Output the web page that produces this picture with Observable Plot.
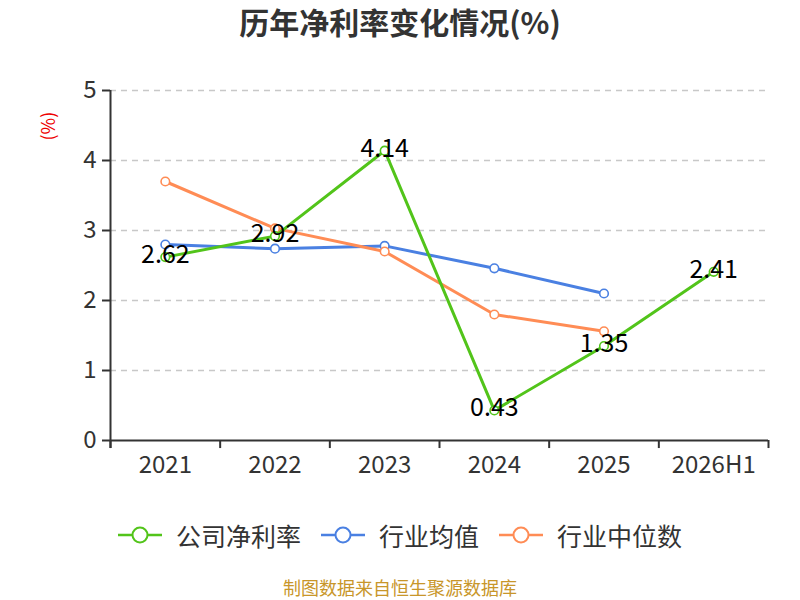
<!DOCTYPE html>
<html>
<head>
<meta charset="utf-8">
<script src="https://cdn.jsdelivr.net/npm/d3@7"></script>
<script src="https://cdn.jsdelivr.net/npm/@observablehq/plot@0.6"></script>
<style>
  body { margin: 0; background: #fff; font-family: "Noto Sans CJK SC", "Noto Sans", sans-serif; }
  #wrap { position: relative; width: 800px; height: 600px; overflow: hidden; }
  #title { position: absolute; left: 0; top: 0px; width: 800px; text-align: center; font-size: 30px; font-weight: bold; color: #333; line-height: 42px; }
  #chart { position: absolute; left: 0; top: 50px; }
  #legend { position: absolute; left: 0; top: 516px; width: 800px; display: flex; justify-content: center; align-items: center; font-size: 25px; color: #333; line-height: 38px; }
  .item { display: flex; align-items: center; margin: 0 10px; }
  .item svg { margin-right: 14px; }
  #caption { position: absolute; left: 0; top: 577px; width: 800px; text-align: center; font-size: 18px; color: #c8962a; line-height: 20px; }
</style>
</head>
<body>
<div id="wrap">
  <div id="title">历年净利率变化情况(%)</div>
  <div id="chart"></div>
  <div id="legend"></div>
  <div id="caption">制图数据来自恒生聚源数据库</div>
</div>
<script>
const years = ["2021", "2022", "2023", "2024", "2025", "2026H1"];
const companyRate = [2.62, 2.92, 4.14, 0.43, 1.35, 2.41];
const industryAvg = [2.80, 2.74, 2.78, 2.46, 2.10];
const industryMedian = [3.70, 3.03, 2.70, 1.80, 1.56];
const yTicks = [0, 1, 2, 3, 4, 5];

const seriesNames = ["公司净利率", "行业均值", "行业中位数"];
const seriesColors = ["#52c41a", "#4a80e2", "#ff8c55"];

const toRows = (vals) => vals.map((v, i) => ({ x: i + 0.5, v, year: years[i] }));
const greenRows = toRows(companyRate);
const blueRows = toRows(industryAvg);
const orangeRows = toRows(industryMedian);

const plot = Plot.plot({
  width: 800,
  height: 440,
  marginLeft: 110,
  marginRight: 32,
  marginTop: 40,
  marginBottom: 50,
  style: { fontFamily: "'Noto Sans CJK SC', 'Noto Sans', sans-serif", background: "transparent" },
  x: { domain: [0, years.length] },
  y: { domain: [0, 5] },
  marks: [
    Plot.ruleY(yTicks.filter(d => d > 0), { stroke: "#c8c8c8", strokeWidth: 1.5, strokeDasharray: "6,5" }),
    Plot.axisY({ ticks: yTicks, tickSize: 8, tickPadding: 6, fontSize: 24, color: "#333", stroke: "#333", strokeWidth: 2, tickFormat: d => String(d), label: null }),
    Plot.ruleX([0], { y1: -0.115, y2: 5, stroke: "#333", strokeWidth: 2 }),
    Plot.ruleY([0], { stroke: "#333", strokeWidth: 2 }),
    Plot.ruleX(d3.range(years.length + 1), { y1: 0, y2: -0.115, stroke: "#333", strokeWidth: 2 }),
    Plot.axisX({ ticks: d3.range(years.length).map(i => i + 0.5), tickSize: 0, tickPadding: 15, fontSize: 24, color: "#333", tickFormat: d => years[Math.floor(d)], label: null }),
    Plot.line(blueRows, { x: "x", y: "v", stroke: seriesColors[1], strokeWidth: 3 }),
    Plot.dot(blueRows, { x: "x", y: "v", r: 4.3, fill: "#fff", stroke: seriesColors[1], strokeWidth: 1.6 }),
    Plot.line(orangeRows, { x: "x", y: "v", stroke: seriesColors[2], strokeWidth: 3 }),
    Plot.dot(orangeRows, { x: "x", y: "v", r: 4.3, fill: "#fff", stroke: seriesColors[2], strokeWidth: 1.6 }),
    Plot.line(greenRows, { x: "x", y: "v", stroke: seriesColors[0], strokeWidth: 3 }),
    Plot.dot(greenRows, { x: "x", y: "v", r: 4.3, fill: "#fff", stroke: seriesColors[0], strokeWidth: 1.6 }),
    Plot.text(greenRows, { x: "x", y: "v", text: d => d.v.toFixed(2), fontSize: 25, fill: "#000", dy: -2 }),
    Plot.text(["(%)"], { frameAnchor: "top-left", dx: -68, dy: 50, rotate: -90, fontSize: 18, fill: "#e00", text: d => d })
  ]
});
document.getElementById("chart").appendChild(plot);

const legend = document.getElementById("legend");
seriesNames.forEach((name, i) => {
  const item = document.createElement("div");
  item.className = "item";
  item.innerHTML = `<svg width="44" height="20"><line x1="0" y1="10" x2="44" y2="10" stroke="${seriesColors[i]}" stroke-width="2.5"/><circle cx="22" cy="10" r="7.5" fill="#fff" stroke="${seriesColors[i]}" stroke-width="2"/></svg><span>${name}</span>`;
  legend.appendChild(item);
});
</script>
</body>
</html>
